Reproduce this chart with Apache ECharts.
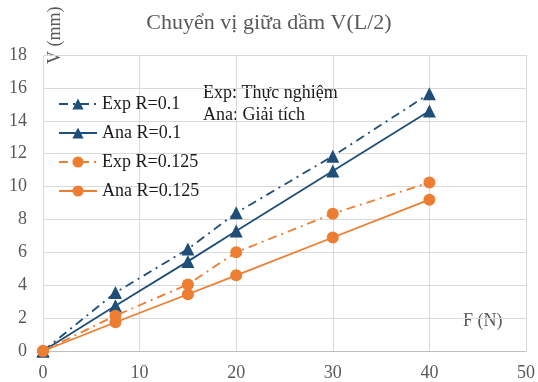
<!DOCTYPE html>
<html>
<head>
<meta charset="utf-8">
<script src="https://cdn.jsdelivr.net/npm/echarts@6/dist/echarts.min.js"></script>
<style>
  html, body { margin: 0; padding: 0; background: #fff; }
  #chart { width: 538px; height: 382px; }
</style>
</head>
<body>
<div id="chart"></div>
<script>
// F (N)
const forces = [0, 7.5, 15, 20, 30, 40];
// V (mm)
const expR01 = [0, 3.55, 6.2, 8.4, 11.85, 15.65];
const anaR01 = [0, 2.75, 5.45, 7.3, 10.95, 14.6];
const expR0125 = [0, 2.15, 4.05, 6.0, 8.35, 10.25];
const anaR0125 = [0, 1.75, 3.45, 4.6, 6.9, 9.2];

const blue = '#1f4e79';
const orange = '#ed7d31';
const font = '"Liberation Serif", "DejaVu Serif", serif';

const pairs = vals => forces.map((f, i) => [f, vals[i]]);

let myChart = echarts.init(document.getElementById('chart'));
myChart.setOption({
    animation: false,
    textStyle: { fontFamily: font },
    title: {
        text: 'Chuyển vị giữa dầm V(L/2)',
        left: 264, top: 7, textAlign: 'center',
        textStyle: { fontFamily: font, fontSize: 22, fontWeight: 'normal', color: '#595959' }
    },
    grid: { left: 43, right: 12, top: 55, bottom: 31 },
    xAxis: {
        type: 'value', min: 0, max: 50, interval: 10,
        axisLine: { show: true, lineStyle: { color: '#bfbfbf' } },
        axisTick: { show: false },
        splitLine: { show: true, lineStyle: { color: '#d9d9d9' } },
        axisLabel: { fontFamily: font, fontSize: 18, color: '#595959', margin: 13 }
    },
    yAxis: {
        type: 'value', min: 0, max: 18, interval: 2,
        axisLine: { show: false },
        axisTick: { show: false },
        splitLine: { show: true, lineStyle: { color: '#d9d9d9' } },
        axisLabel: { fontFamily: font, fontSize: 18, color: '#595959', margin: 16 }
    },
    legend: {
        orient: 'vertical', left: 53, top: 90,
        itemWidth: 38, itemHeight: 14, itemGap: 11,
        textStyle: { fontFamily: font, fontSize: 18, color: '#1a1a1a' },
        data: ['Exp R=0.1', 'Ana R=0.1', 'Exp R=0.125', 'Ana R=0.125']
    },
    graphic: [
        { type: 'text', left: 203, top: 82, style: { text: 'Exp: Thực nghiệm\nAna: Giải tích', font: '18px ' + font, fill: '#1a1a1a', lineHeight: 22 } },
        { type: 'text', x: 46, y: 64, rotation: Math.PI / 2, style: { text: 'V (mm)', font: '18px ' + font, fill: '#595959', textVerticalAlign: 'top' } },
        { type: 'text', left: 463, top: 312, style: { text: 'F (N)', font: '18px ' + font, fill: '#595959' } }
    ],
    series: [
        {
            name: 'Exp R=0.1', type: 'line', data: pairs(expR01),
            symbol: 'triangle', symbolSize: 13,
            lineStyle: { color: blue, width: 1.8, type: [9, 5, 2, 5] },
            itemStyle: { color: blue }
        },
        {
            name: 'Ana R=0.1', type: 'line', data: pairs(anaR01),
            symbol: 'triangle', symbolSize: 13,
            lineStyle: { color: blue, width: 1.8 },
            itemStyle: { color: blue }
        },
        {
            name: 'Exp R=0.125', type: 'line', data: pairs(expR0125),
            symbol: 'circle', symbolSize: 12,
            lineStyle: { color: orange, width: 1.8, type: [9, 5, 2, 5] },
            itemStyle: { color: orange }
        },
        {
            name: 'Ana R=0.125', type: 'line', data: pairs(anaR0125),
            symbol: 'circle', symbolSize: 12,
            lineStyle: { color: orange, width: 1.8 },
            itemStyle: { color: orange }
        }
    ]
});
</script>
</body>
</html>
